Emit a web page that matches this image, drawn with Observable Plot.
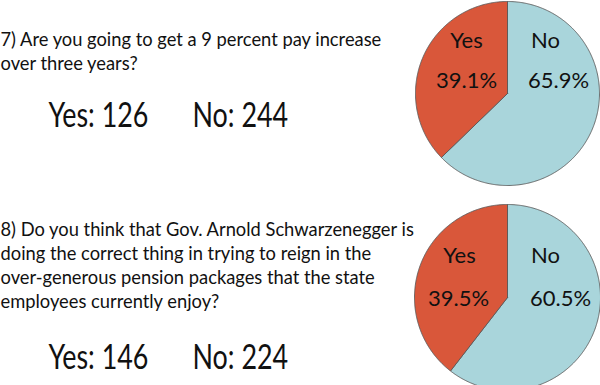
<!DOCTYPE html>
<html>
<head>
<meta charset="utf-8">
<script src="https://cdn.jsdelivr.net/npm/d3@7"></script>
<script src="https://cdn.jsdelivr.net/npm/@observablehq/plot@0.6"></script>
<style>
  html, body { margin: 0; padding: 0; background: #fff; }
  #chart svg { display: block; }
</style>
</head>
<body>
<div id="chart"></div>
<script>
// ---- data ----
const questions = [
  "7) Are you going to get a 9 percent pay increase\nover three years?",
  "8) Do you think that Gov. Arnold Schwarzenegger is\ndoing the correct thing in trying to reign in the\nover-generous pension packages that the state\nemployees currently enjoy?"
];
const answers = ["Yes", "No"];
const yesCounts = [126, 146];
const noCounts = [244, 224];
const yesPct = [39.1, 39.5];
const noPct = [65.9, 60.5];

// ---- layout ----
const W = 600, H = 385;
const FONT = "Lato";
const colors = {Yes: "#d9573a", No: "#a9d5db"};
const pies = [
  {cx: 507, cy: 93, r: 92, qy: 47, cy2: 126,
   lab: {Yes: [-41, -46], No: [38, -46]}, pct: {Yes: [-41, -6], No: [51, -6]}},
  {cx: 507, cy: 297, r: 93, qy: 237, cy2: 368,
   lab: {Yes: [-48, -35], No: [38, -35]}, pct: {Yes: [-49, 8], No: [53, 8]}}
];

// wedge polygons from the data via d3.pie
const wedgePts = [];
const labelRows = [];
const pctRows = [];
const countRows = [];
const questionRows = [];
pies.forEach((p, i) => {
  const slices = [{answer: "No", value: noPct[i]}, {answer: "Yes", value: yesPct[i]}];
  const arcs = d3.pie().sort(null).value(d => d.value)(slices);
  arcs.forEach(a => {
    const key = `${i}-${a.data.answer}`;
    const pt = (t) => ({key, answer: a.data.answer, x: p.cx + p.r * Math.sin(t), y: p.cy - p.r * Math.cos(t)});
    wedgePts.push({key, answer: a.data.answer, x: p.cx, y: p.cy});
    const n = Math.max(2, Math.ceil((a.endAngle - a.startAngle) / 0.01));
    for (let k = 0; k <= n; k++) wedgePts.push(pt(a.startAngle + (a.endAngle - a.startAngle) * k / n));
    wedgePts.push({key, answer: a.data.answer, x: p.cx, y: p.cy});
  });
  answers.forEach(ans => {
    labelRows.push({x: p.cx + p.lab[ans][0], y: p.cy + p.lab[ans][1], text: ans});
    const v = ans === "Yes" ? yesPct[i] : noPct[i];
    pctRows.push({x: p.cx + p.pct[ans][0], y: p.cy + p.pct[ans][1], text: v.toFixed(1) + "%"});
  });
  countRows.push({x: 48, y: p.cy2, text: `Yes: ${yesCounts[i]}`});
  countRows.push({x: 192, y: p.cy2, text: `No: ${noCounts[i]}`});
  questionRows.push({x: 0, y: p.qy, text: questions[i]});
});

const qFs = 19.5, cFs = 34, pFs = 22;
const chart = Plot.plot({
  width: W, height: H, margin: 0,
  x: {domain: [0, W], range: [0, W]},
  y: {domain: [0, H], range: [0, H]},
  axis: null,
  style: {fontFamily: FONT, background: "#fff"},
  marks: [
    Plot.line(wedgePts, {x: "x", y: "y", z: "key", fill: d => colors[d.answer], stroke: "#5a5a5a", strokeWidth: 0.9, curve: "linear-closed"}),
    Plot.text(questionRows, {x: "x", y: "y", text: "text", textAnchor: "start", lineAnchor: "top", dy: -0.97 * qFs, fontSize: qFs, lineHeight: 24.2 / qFs, fill: "#111"}),
    Plot.text(countRows, {x: "x", y: "y", text: "text", textAnchor: "start", dy: -0.32 * cFs, fontSize: cFs, fill: "#111"}),
    Plot.text(labelRows, {x: "x", y: "y", text: "text", textAnchor: "middle", dy: -0.32 * pFs, fontSize: pFs, fill: "#111"}),
    Plot.text(pctRows, {x: "x", y: "y", text: "text", textAnchor: "middle", dy: -0.32 * pFs, fontSize: pFs, fill: "#111"})
  ]
});

// narrow the Lato glyphs horizontally to approximate the reference's condensed face
function squeeze(group, s) {
  d3.select(group).selectAll("text").each(function() {
    const t = this.getAttribute("transform");
    if (t) this.setAttribute("transform", t + ` scale(${s},1)`);
    else {
      const x = +this.getAttribute("x") || 0;
      this.setAttribute("transform", `translate(${x},0) scale(${s},1) translate(${-x},0)`);
    }
  });
}
const textGroups = d3.select(chart).selectAll('g[aria-label="text"]').nodes();
squeeze(textGroups[0], 0.94);
squeeze(textGroups[1], 0.79);

document.getElementById("chart").appendChild(chart);
</script>
</body>
</html>
